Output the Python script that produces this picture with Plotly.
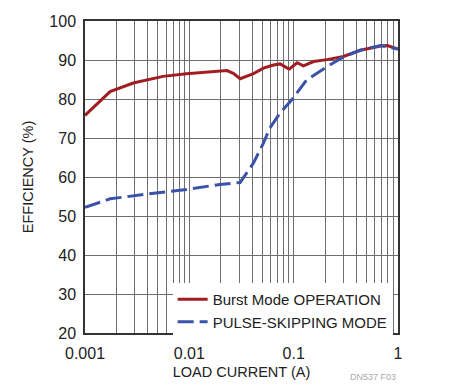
import plotly.graph_objects as go

# Data
burst_x = [0.001, 0.00174, 0.0029, 0.0039, 0.0056, 0.0094, 0.0197, 0.0229, 0.0264, 0.0307,
           0.0412, 0.0513, 0.0641, 0.0742, 0.086, 0.091, 0.108, 0.124, 0.155, 0.209,
           0.30, 0.435, 0.68, 0.79, 1.0]
burst_y = [75.8, 81.9, 84.1, 84.9, 85.8, 86.5, 87.2, 87.3, 86.6, 85.2,
           86.5, 87.9, 88.7, 89.0, 88.0, 87.7, 89.3, 88.5, 89.6, 90.1,
           90.9, 92.5, 93.6, 93.7, 92.8]

pulse_x = [0.001, 0.00174, 0.0039, 0.0094, 0.0197, 0.0307, 0.0412, 0.0513, 0.059, 0.074,
           0.096, 0.133, 0.209, 0.30, 0.435, 0.68, 1.0]
pulse_y = [52.2, 54.4, 55.6, 56.8, 58.1, 58.6, 63.6, 68.7, 72.5, 76.4,
           79.8, 84.9, 88.3, 90.8, 92.5, 93.7, 92.8]

x_tickvals = [m * 10 ** e for e in (-3, -2, -1) for m in range(1, 10)] + [1]
x_labels = {0.001: "0.001", 0.01: "0.01", 0.1: "0.1", 1: "1"}
x_ticktext = [x_labels.get(v, "") for v in x_tickvals]
y_tickvals = [20, 30, 40, 50, 60, 70, 80, 90, 100]

FONT = "Liberation Sans, Arial, sans-serif"

fig = go.Figure()
fig.add_trace(go.Scatter(x=burst_x, y=burst_y, mode="lines", name="Burst Mode OPERATION",
                         line=dict(color="#a11d22", width=3)))
fig.add_trace(go.Scatter(x=pulse_x, y=pulse_y, mode="lines", name="PULSE-SKIPPING MODE",
                         line=dict(color="#3a52a8", width=3, dash="16px,6px")))

fig.update_layout(
    width=452, height=391,
    margin=dict(l=85, r=54, t=21, b=58),
    paper_bgcolor="white", plot_bgcolor="white",
    font=dict(family=FONT, color="#222", size=15),
    showlegend=True,
    legend=dict(x=0.28, y=0.16, xanchor="left", yanchor="top",
                bgcolor="white", borderwidth=0, font=dict(size=15, family=FONT, color="#222"),
                tracegroupgap=0, itemwidth=30),
    xaxis=dict(type="log", range=[-3, 0], tickvals=x_tickvals, ticktext=x_ticktext,
               showgrid=True, gridcolor="#6e6e6e", gridwidth=1,
               showline=True, linecolor="#333", linewidth=1.5, mirror=True,
               ticks="", tickfont=dict(size=16), zeroline=False, ticklabelstandoff=5,
               title=dict(text="LOAD CURRENT (A)", font=dict(size=14.5), standoff=6)),
    yaxis=dict(range=[20, 100], tickvals=y_tickvals,
               showgrid=True, gridcolor="#6e6e6e", gridwidth=1,
               showline=True, linecolor="#333", linewidth=1.5, mirror=True,
               ticks="", tickfont=dict(size=16), zeroline=False, ticklabelstandoff=4,
               title=dict(text="EFFICIENCY (%)", font=dict(size=14.5), standoff=12)),
)

fig.add_annotation(text="DN537 F03", xref="paper", yref="paper", x=1.0, y=-0.12,
                   xanchor="right", yanchor="top", showarrow=False,
                   font=dict(size=9, color="#aaaaaa", family=FONT))

fig.write_html("out.html")
